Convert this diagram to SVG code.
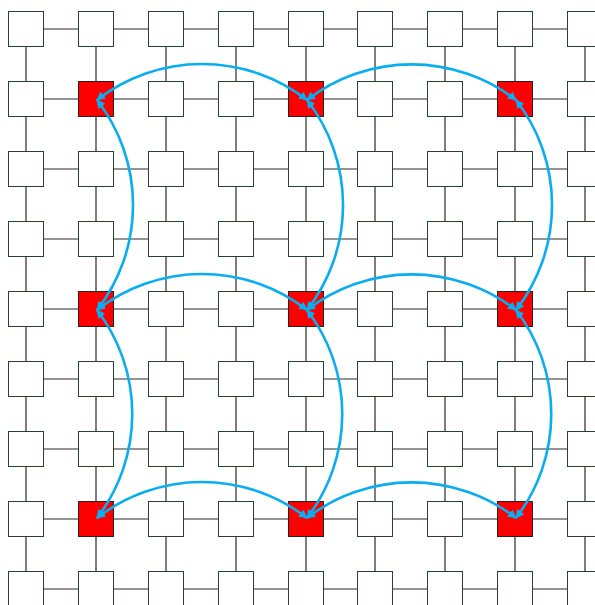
<svg xmlns="http://www.w3.org/2000/svg" width="595" height="605" viewBox="0 0 595 605">
<style>
.n{fill:#ffffff;stroke:#24442e;stroke-width:1}
.r{fill:#ff0000;stroke:#222222;stroke-width:1}
.e{stroke:#2a2a2a;stroke-width:1.2;fill:none}
.a{stroke:#0aaef0;stroke-width:2.6;fill:none;marker-start:url(#ah);marker-end:url(#ah)}
</style>
<defs>
<marker id="ah" viewBox="0 0 10 10" refX="9" refY="5" markerWidth="9" markerHeight="9" markerUnits="userSpaceOnUse" orient="auto-start-reverse">
<path d="M0,0 L10,5 L0,10 z" fill="#0aaef0"/>
</marker>
</defs>
<g id="edges">
<path class="e" d="M26,29H595M26,99H595M26,169H595M26,239H595M26,309H595M26,379H595M26,449H595M26,519H595M26,589H595"/>
<path class="e" d="M26,29V605M96,29V605M166,29V605M236,29V605M306,29V605M375,29V605M445,29V605M515,29V605M585,29V605"/>
</g>
<g id="nodes">
<g id="n0_0"><rect class="n" x="8.5" y="11.5" width="35" height="35"/></g>
<g id="n0_1"><rect class="n" x="78.5" y="11.5" width="35" height="35"/></g>
<g id="n0_2"><rect class="n" x="148.5" y="11.5" width="35" height="35"/></g>
<g id="n0_3"><rect class="n" x="218.5" y="11.5" width="35" height="35"/></g>
<g id="n0_4"><rect class="n" x="288.5" y="11.5" width="35" height="35"/></g>
<g id="n0_5"><rect class="n" x="357.5" y="11.5" width="35" height="35"/></g>
<g id="n0_6"><rect class="n" x="427.5" y="11.5" width="35" height="35"/></g>
<g id="n0_7"><rect class="n" x="497.5" y="11.5" width="35" height="35"/></g>
<g id="n0_8"><rect class="n" x="567.5" y="11.5" width="35" height="35"/></g>
<g id="n1_0"><rect class="n" x="8.5" y="81.5" width="35" height="35"/></g>
<g id="n1_1"><rect class="r" x="78.5" y="81.5" width="35" height="35"/></g>
<g id="n1_2"><rect class="n" x="148.5" y="81.5" width="35" height="35"/></g>
<g id="n1_3"><rect class="n" x="218.5" y="81.5" width="35" height="35"/></g>
<g id="n1_4"><rect class="r" x="288.5" y="81.5" width="35" height="35"/></g>
<g id="n1_5"><rect class="n" x="357.5" y="81.5" width="35" height="35"/></g>
<g id="n1_6"><rect class="n" x="427.5" y="81.5" width="35" height="35"/></g>
<g id="n1_7"><rect class="r" x="497.5" y="81.5" width="35" height="35"/></g>
<g id="n1_8"><rect class="n" x="567.5" y="81.5" width="35" height="35"/></g>
<g id="n2_0"><rect class="n" x="8.5" y="151.5" width="35" height="35"/></g>
<g id="n2_1"><rect class="n" x="78.5" y="151.5" width="35" height="35"/></g>
<g id="n2_2"><rect class="n" x="148.5" y="151.5" width="35" height="35"/></g>
<g id="n2_3"><rect class="n" x="218.5" y="151.5" width="35" height="35"/></g>
<g id="n2_4"><rect class="n" x="288.5" y="151.5" width="35" height="35"/></g>
<g id="n2_5"><rect class="n" x="357.5" y="151.5" width="35" height="35"/></g>
<g id="n2_6"><rect class="n" x="427.5" y="151.5" width="35" height="35"/></g>
<g id="n2_7"><rect class="n" x="497.5" y="151.5" width="35" height="35"/></g>
<g id="n2_8"><rect class="n" x="567.5" y="151.5" width="35" height="35"/></g>
<g id="n3_0"><rect class="n" x="8.5" y="221.5" width="35" height="35"/></g>
<g id="n3_1"><rect class="n" x="78.5" y="221.5" width="35" height="35"/></g>
<g id="n3_2"><rect class="n" x="148.5" y="221.5" width="35" height="35"/></g>
<g id="n3_3"><rect class="n" x="218.5" y="221.5" width="35" height="35"/></g>
<g id="n3_4"><rect class="n" x="288.5" y="221.5" width="35" height="35"/></g>
<g id="n3_5"><rect class="n" x="357.5" y="221.5" width="35" height="35"/></g>
<g id="n3_6"><rect class="n" x="427.5" y="221.5" width="35" height="35"/></g>
<g id="n3_7"><rect class="n" x="497.5" y="221.5" width="35" height="35"/></g>
<g id="n3_8"><rect class="n" x="567.5" y="221.5" width="35" height="35"/></g>
<g id="n4_0"><rect class="n" x="8.5" y="291.5" width="35" height="35"/></g>
<g id="n4_1"><rect class="r" x="78.5" y="291.5" width="35" height="35"/></g>
<g id="n4_2"><rect class="n" x="148.5" y="291.5" width="35" height="35"/></g>
<g id="n4_3"><rect class="n" x="218.5" y="291.5" width="35" height="35"/></g>
<g id="n4_4"><rect class="r" x="288.5" y="291.5" width="35" height="35"/></g>
<g id="n4_5"><rect class="n" x="357.5" y="291.5" width="35" height="35"/></g>
<g id="n4_6"><rect class="n" x="427.5" y="291.5" width="35" height="35"/></g>
<g id="n4_7"><rect class="r" x="497.5" y="291.5" width="35" height="35"/></g>
<g id="n4_8"><rect class="n" x="567.5" y="291.5" width="35" height="35"/></g>
<g id="n5_0"><rect class="n" x="8.5" y="361.5" width="35" height="35"/></g>
<g id="n5_1"><rect class="n" x="78.5" y="361.5" width="35" height="35"/></g>
<g id="n5_2"><rect class="n" x="148.5" y="361.5" width="35" height="35"/></g>
<g id="n5_3"><rect class="n" x="218.5" y="361.5" width="35" height="35"/></g>
<g id="n5_4"><rect class="n" x="288.5" y="361.5" width="35" height="35"/></g>
<g id="n5_5"><rect class="n" x="357.5" y="361.5" width="35" height="35"/></g>
<g id="n5_6"><rect class="n" x="427.5" y="361.5" width="35" height="35"/></g>
<g id="n5_7"><rect class="n" x="497.5" y="361.5" width="35" height="35"/></g>
<g id="n5_8"><rect class="n" x="567.5" y="361.5" width="35" height="35"/></g>
<g id="n6_0"><rect class="n" x="8.5" y="431.5" width="35" height="35"/></g>
<g id="n6_1"><rect class="n" x="78.5" y="431.5" width="35" height="35"/></g>
<g id="n6_2"><rect class="n" x="148.5" y="431.5" width="35" height="35"/></g>
<g id="n6_3"><rect class="n" x="218.5" y="431.5" width="35" height="35"/></g>
<g id="n6_4"><rect class="n" x="288.5" y="431.5" width="35" height="35"/></g>
<g id="n6_5"><rect class="n" x="357.5" y="431.5" width="35" height="35"/></g>
<g id="n6_6"><rect class="n" x="427.5" y="431.5" width="35" height="35"/></g>
<g id="n6_7"><rect class="n" x="497.5" y="431.5" width="35" height="35"/></g>
<g id="n6_8"><rect class="n" x="567.5" y="431.5" width="35" height="35"/></g>
<g id="n7_0"><rect class="n" x="8.5" y="501.5" width="35" height="35"/></g>
<g id="n7_1"><rect class="r" x="78.5" y="501.5" width="35" height="35"/></g>
<g id="n7_2"><rect class="n" x="148.5" y="501.5" width="35" height="35"/></g>
<g id="n7_3"><rect class="n" x="218.5" y="501.5" width="35" height="35"/></g>
<g id="n7_4"><rect class="r" x="288.5" y="501.5" width="35" height="35"/></g>
<g id="n7_5"><rect class="n" x="357.5" y="501.5" width="35" height="35"/></g>
<g id="n7_6"><rect class="n" x="427.5" y="501.5" width="35" height="35"/></g>
<g id="n7_7"><rect class="r" x="497.5" y="501.5" width="35" height="35"/></g>
<g id="n7_8"><rect class="n" x="567.5" y="501.5" width="35" height="35"/></g>
<g id="n8_0"><rect class="n" x="8.5" y="571.5" width="35" height="35"/></g>
<g id="n8_1"><rect class="n" x="78.5" y="571.5" width="35" height="35"/></g>
<g id="n8_2"><rect class="n" x="148.5" y="571.5" width="35" height="35"/></g>
<g id="n8_3"><rect class="n" x="218.5" y="571.5" width="35" height="35"/></g>
<g id="n8_4"><rect class="n" x="288.5" y="571.5" width="35" height="35"/></g>
<g id="n8_5"><rect class="n" x="357.5" y="571.5" width="35" height="35"/></g>
<g id="n8_6"><rect class="n" x="427.5" y="571.5" width="35" height="35"/></g>
<g id="n8_7"><rect class="n" x="497.5" y="571.5" width="35" height="35"/></g>
<g id="n8_8"><rect class="n" x="567.5" y="571.5" width="35" height="35"/></g>
</g>
<g id="connectors">
<path class="a" d="M97,100 A171,171 0 0 1 307,100"/>
<path class="a" d="M307,100 A171,171 0 0 1 516,100"/>
<path class="a" d="M97,310 A171,171 0 0 1 307,310"/>
<path class="a" d="M307,310 A171,171 0 0 1 516,310"/>
<path class="a" d="M97,518 A171,171 0 0 1 307,518"/>
<path class="a" d="M307,518 A171,171 0 0 1 516,518"/>
<path class="a" d="M97,100 A171,171 0 0 1 97,310"/>
<path class="a" d="M97,310 A171,171 0 0 1 97,518"/>
<path class="a" d="M307,100 A171,171 0 0 1 307,310"/>
<path class="a" d="M307,310 A171,171 0 0 1 307,518"/>
<path class="a" d="M516,100 A171,171 0 0 1 516,310"/>
<path class="a" d="M516,310 A171,171 0 0 1 516,518"/>
</g>
</svg>
